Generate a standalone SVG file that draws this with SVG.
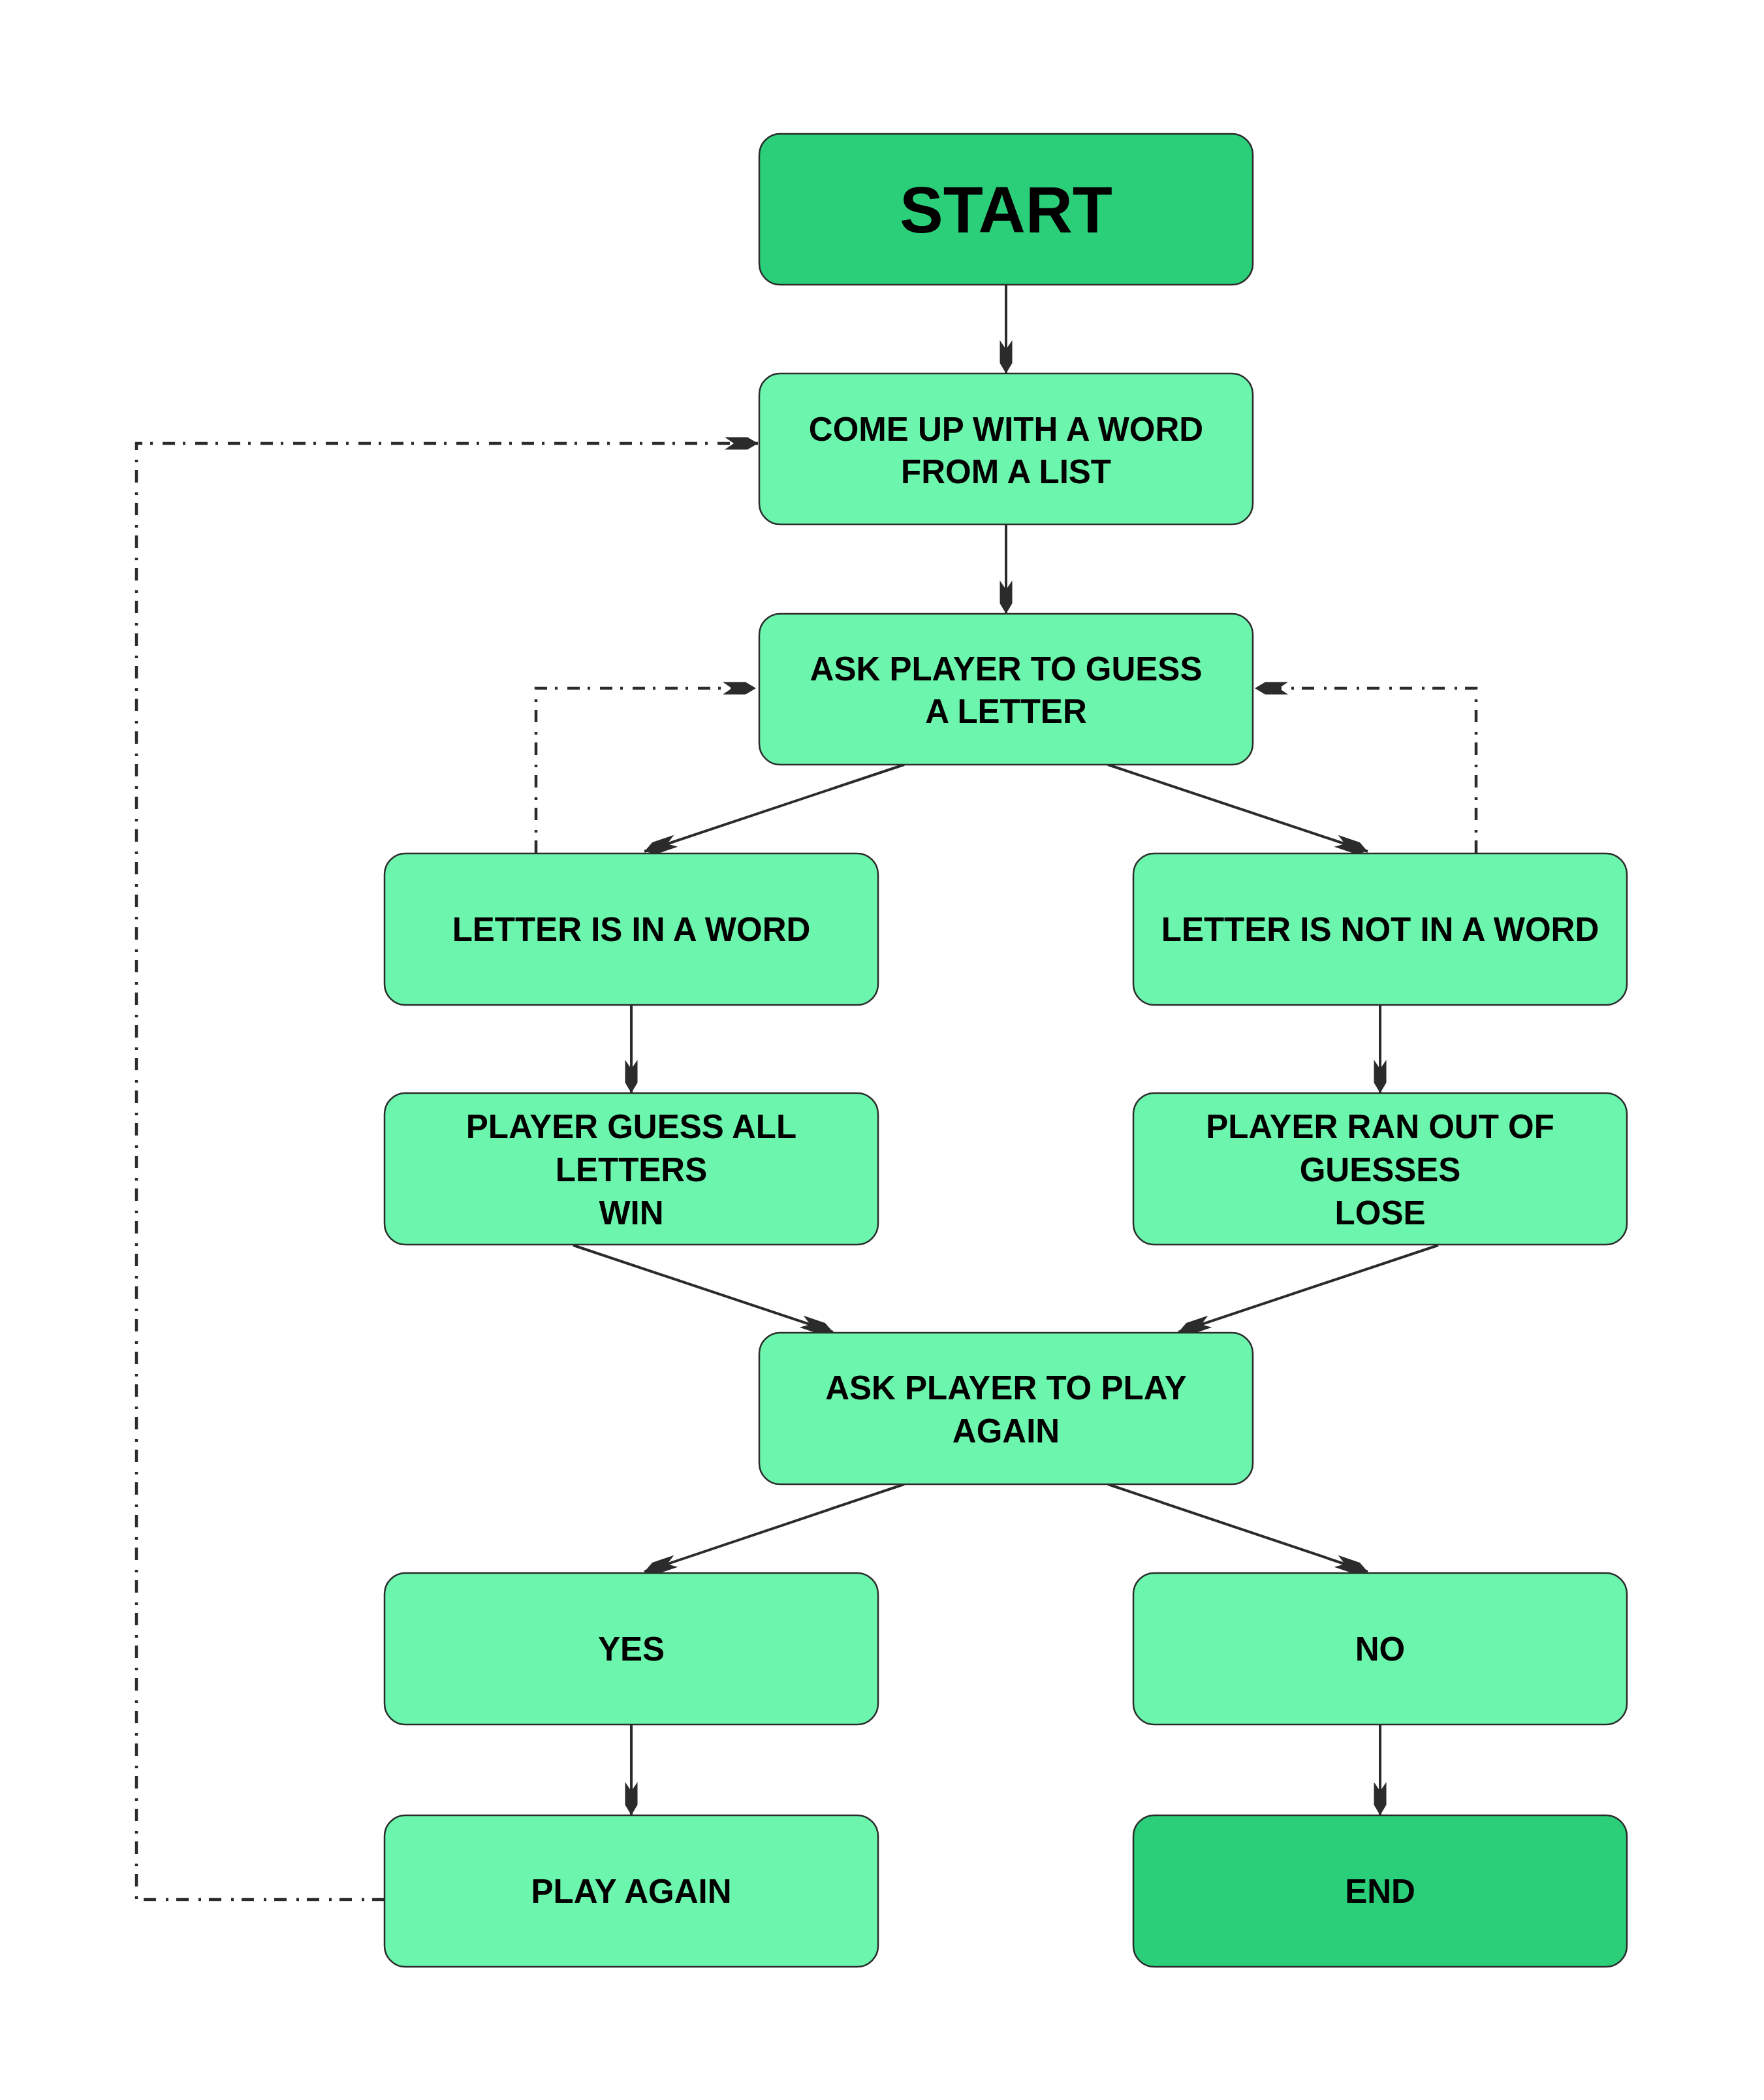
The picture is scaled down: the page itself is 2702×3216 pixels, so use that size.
<svg xmlns="http://www.w3.org/2000/svg" width="2702" height="3216" viewBox="0 0 2702 3216">
<style>
.box{stroke:#2b2b2b;stroke-width:2.5}
.dark{fill:#2bcf7a}
.light{fill:#6cf6ad}
.t{font-family:"Liberation Sans",Arial,sans-serif;font-weight:bold;font-size:51px;fill:#000;text-anchor:middle}
.big{font-size:100px}
.c{fill:none;stroke:#2b2b2b;stroke-width:4}
.d{fill:none;stroke:#2b2b2b;stroke-width:4.5;stroke-dasharray:19 12 4 15}
</style>
<defs>
<marker id="ah" markerUnits="userSpaceOnUse" viewBox="-55 -12 60 24" markerWidth="60" markerHeight="24" refX="0" refY="0" orient="auto">
<path d="M0,0 L-16,-9.5 L-51,-9.5 L-37,0 L-51,9.5 L-16,9.5 Z" fill="#2b2b2b"/>
</marker>
</defs>
<rect width="2702" height="3216" fill="#fff"/>
<g id="connectors">
<path class="c" d="M1541,436 L1541,572" marker-end="url(#ah)"/>
<path class="c" d="M1541,803 L1541,940" marker-end="url(#ah)"/>
<path class="c" d="M1385,1171 L987,1304" marker-end="url(#ah)"/>
<path class="c" d="M1697,1171 L2095,1304" marker-end="url(#ah)"/>
<path class="c" d="M967,1539 L967,1674" marker-end="url(#ah)"/>
<path class="c" d="M2114,1539 L2114,1674" marker-end="url(#ah)"/>
<path class="c" d="M878,1907 L1276,2040" marker-end="url(#ah)"/>
<path class="c" d="M2203,1907 L1805,2040" marker-end="url(#ah)"/>
<path class="c" d="M1385,2273 L987,2407" marker-end="url(#ah)"/>
<path class="c" d="M1697,2273 L2095,2407" marker-end="url(#ah)"/>
<path class="c" d="M967,2641 L967,2780" marker-end="url(#ah)"/>
<path class="c" d="M2114,2641 L2114,2780" marker-end="url(#ah)"/>
<path class="d" d="M589,2909 L209,2909 L209,679 L1161,679" marker-end="url(#ah)"/>
<path class="d" d="M821,1306 L821,1054 L1158,1054" marker-end="url(#ah)"/>
<path class="d" d="M2261,1306 L2261,1054 L1922,1054" marker-end="url(#ah)"/>
</g>
<g id="start"><rect class="box dark" x="1163" y="205" width="756" height="231" rx="32"/><text class="t big" x="1541" y="356">START</text></g>
<g id="come-up"><rect class="box light" x="1163" y="572" width="756" height="231" rx="32"/><text class="t" x="1541" y="675">COME UP WITH A WORD</text><text class="t" x="1541" y="740">FROM A LIST</text></g>
<g id="ask-guess"><rect class="box light" x="1163" y="940" width="756" height="231" rx="32"/><text class="t" x="1541" y="1042">ASK PLAYER TO GUESS</text><text class="t" x="1541" y="1107">A LETTER</text></g>
<g id="letter-in"><rect class="box light" x="589" y="1307" width="756" height="232" rx="32"/><text class="t" x="967" y="1441">LETTER IS IN A WORD</text></g>
<g id="letter-not"><rect class="box light" x="1736" y="1307" width="756" height="232" rx="32"/><text class="t" x="2114" y="1441">LETTER IS NOT IN A WORD</text></g>
<g id="guess-all"><rect class="box light" x="589" y="1674" width="756" height="232" rx="32"/><text class="t" x="967" y="1743">PLAYER GUESS ALL</text><text class="t" x="967" y="1809">LETTERS</text><text class="t" x="967" y="1875">WIN</text></g>
<g id="ran-out"><rect class="box light" x="1736" y="1674" width="756" height="232" rx="32"/><text class="t" x="2114" y="1743">PLAYER RAN OUT OF</text><text class="t" x="2114" y="1809">GUESSES</text><text class="t" x="2114" y="1875">LOSE</text></g>
<g id="ask-play"><rect class="box light" x="1163" y="2041" width="756" height="232" rx="32"/><text class="t" x="1541" y="2143">ASK PLAYER TO PLAY</text><text class="t" x="1541" y="2209">AGAIN</text></g>
<g id="yes"><rect class="box light" x="589" y="2409" width="756" height="232" rx="32"/><text class="t" x="967" y="2543">YES</text></g>
<g id="no"><rect class="box light" x="1736" y="2409" width="756" height="232" rx="32"/><text class="t" x="2114" y="2543">NO</text></g>
<g id="play-again"><rect class="box light" x="589" y="2780" width="756" height="232" rx="32"/><text class="t" x="967" y="2914">PLAY AGAIN</text></g>
<g id="end"><rect class="box dark" x="1736" y="2780" width="756" height="232" rx="32"/><text class="t" x="2114" y="2914">END</text></g>
</svg>
